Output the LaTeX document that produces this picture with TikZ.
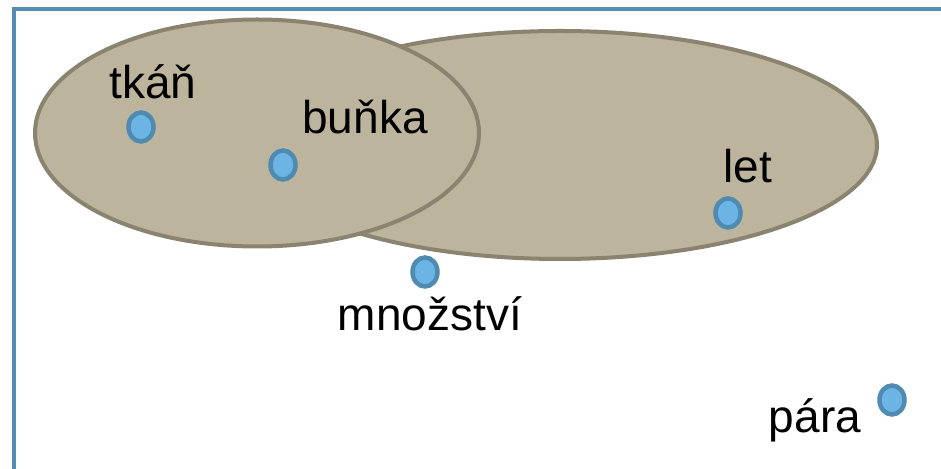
\documentclass[tikz,border=0pt]{standalone}
\usepackage{fontspec}
\setmainfont{Liberation Sans}
\usetikzlibrary{shapes.geometric, positioning}

\definecolor{framecol}{RGB}{88,141,178}
\definecolor{blobfill}{RGB}{188,180,156}
\definecolor{blobline}{RGB}{137,131,111}
\definecolor{dotfill}{RGB}{108,180,228}
\definecolor{dotline}{RGB}{79,138,176}

\begin{document}
\begin{tikzpicture}[x=0.5pt, y=-0.5pt]
                \tikzset{
                    blob/.style={ellipse, draw=blobline, fill=blobfill, line width=2pt, inner sep=0pt},
                    dot/.style={ellipse, draw=dotline, fill=dotfill, line width=2.25pt, inner sep=0pt, minimum width=12.5pt, minimum height=14.5pt},
                    word/.style={anchor=base, inner sep=0pt, font=\fontsize{23}{27}\selectfont}
                }

                \useasboundingbox (0,0) rectangle (941,469);
                \clip (0,0) rectangle (941,469);

                % FRAME
                \draw[framecol, line width=2.25pt] (14,9) rectangle (1000,520);

                % SETS
                \node[blob, minimum width=317pt, minimum height=114pt] (big) at (560,145) {};
                \node[blob, minimum width=222pt, minimum height=113.5pt] (small) at (257,133) {};

                % POINTS
                \node[dot] (tkan) at (141,127) {};
                \node[dot] (bunka) at (283,165) {};
                \node[dot] (let) at (728,213) {};
                \node[dot] (mnozstvi) at (425,272) {};
                \node[dot] (para) at (892,400) {};

                % LABELS
                \node[word] (tkan-lbl) at (153,99) {tkáň};
                \node[word] (bunka-lbl) at (365,134) {buňka};
                \node[word] (let-lbl) at (748,183) {let};
                \node[word] (mnozstvi-lbl) at (430,331) {množství};
                \node[word] (para-lbl) at (815,433) {pára};

            \end{tikzpicture}
\end{document}
